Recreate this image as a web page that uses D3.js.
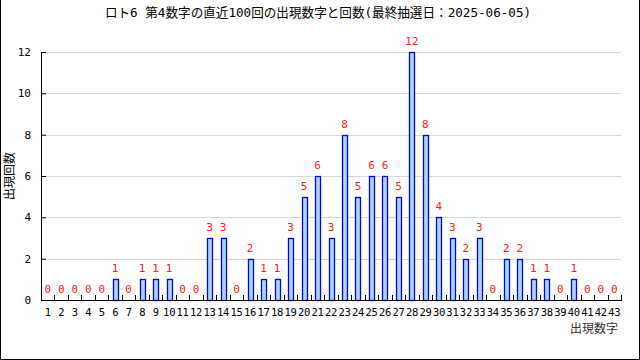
<!DOCTYPE html>
<html>
<head>
<meta charset="utf-8">
<script src="https://cdn.jsdelivr.net/npm/d3@7"></script>
<style>
  body { margin: 0; background: #fff; }
  svg { display: block; }
</style>
</head>
<body>
<div id="chart"></div>
<script>
// Data
const numbers = d3.range(1, 44);
const counts = [0, 0, 0, 0, 0, 1, 0, 1, 1, 1, 0, 0, 3, 3, 0, 2, 1, 1, 3, 5,
                6, 3, 8, 5, 6, 6, 5, 12, 8, 4, 3, 2, 3, 0, 2, 2, 1, 1, 0, 1,
                0, 0, 0];
const yTicks = [0, 2, 4, 6, 8, 10, 12];
const titleText = "ロト6 第4数字の直近100回の出現数字と回数(最終抽選日：2025-06-05)";

const data = numbers.map((n, i) => ({ num: n, count: counts[i] }));

const svgWidth = 640;
const svgHeight = 360;
const margin = { top: 52, right: 19, bottom: 60, left: 41 };
const width = svgWidth - margin.left - margin.right;
const height = svgHeight - margin.top - margin.bottom;

const monoFont = "'DejaVu Sans Mono', 'Noto Sans CJK JP', monospace";
const cjkFont = "'Noto Sans CJK JP', 'DejaVu Sans', sans-serif";

const svg = d3.select("#chart")
  .append("svg")
  .attr("width", svgWidth)
  .attr("height", svgHeight);

// outer frame (left, right, bottom)
svg.append("path")
  .attr("d", `M0.5,0 V${svgHeight - 0.5} H${svgWidth - 0.5} V0`)
  .attr("fill", "none")
  .attr("stroke", "#000");

// title
svg.append("text")
  .attr("x", 318)
  .attr("y", 17)
  .attr("text-anchor", "middle")
  .attr("font-family", monoFont)
  .attr("font-size", 12.6)
  .text(titleText);

const g = svg.append("g")
  .attr("transform", `translate(${margin.left}, ${margin.top})`);

const x = d3.scaleBand().domain(numbers).range([0, width]);
const y = d3.scaleLinear().domain([0, 12]).range([height, 0]);

// gridlines
g.append("g")
  .selectAll("line")
  .data(yTicks.filter(d => d > 0))
  .join("line")
  .attr("x1", 0)
  .attr("x2", width)
  .attr("y1", d => Math.round(y(d)) + 0.5)
  .attr("y2", d => Math.round(y(d)) + 0.5)
  .attr("stroke", "#d9d9d9");

// bars
const barW = 5;
g.append("g")
  .selectAll("rect")
  .data(data.filter(d => d.count > 0))
  .join("rect")
  .attr("x", d => Math.round(x(d.num) + x.bandwidth() / 2 - barW / 2) + 0.5)
  .attr("y", d => Math.round(y(d.count)) + 0.5)
  .attr("width", barW)
  .attr("height", d => Math.round(height) - Math.round(y(d.count)))
  .attr("fill", "#add8e6")
  .attr("stroke", "#0000ff")
  .attr("stroke-width", 1.3);

// value labels
g.append("g")
  .selectAll("text")
  .data(data)
  .join("text")
  .attr("x", d => x(d.num) + x.bandwidth() / 2)
  .attr("y", d => y(d.count) - 7)
  .attr("text-anchor", "middle")
  .attr("font-family", monoFont)
  .attr("font-size", 11)
  .attr("fill", "#ff2020")
  .text(d => d.count);

// y axis
const yAxis = d3.axisLeft(y).tickValues(yTicks).tickSizeInner(-5).tickSizeOuter(0).tickPadding(10);
g.append("g")
  .call(yAxis)
  .call(s => s.selectAll("text").attr("font-family", monoFont).attr("font-size", 11).attr("fill", "#000"));

// x axis with ticks at band boundaries
g.append("line")
  .attr("x1", 0).attr("x2", width + 1)
  .attr("y1", height + 0.5).attr("y2", height + 0.5)
  .attr("stroke", "#000");

g.append("g")
  .selectAll("line")
  .data(numbers)
  .join("line")
  .attr("x1", d => Math.round(x(d) + x.bandwidth()) + 0.5)
  .attr("x2", d => Math.round(x(d) + x.bandwidth()) + 0.5)
  .attr("y1", height)
  .attr("y2", height - 5)
  .attr("stroke", "#000");

g.append("g")
  .selectAll("text")
  .data(numbers)
  .join("text")
  .attr("x", d => x(d) + x.bandwidth() / 2)
  .attr("y", height + 16)
  .attr("text-anchor", "middle")
  .attr("font-family", monoFont)
  .attr("font-size", 10.5)
  .attr("letter-spacing", -0.3)
  .text(d => d);

// axis titles
svg.append("text")
  .attr("x", 618)
  .attr("y", 333)
  .attr("text-anchor", "end")
  .attr("font-family", cjkFont)
  .attr("font-size", 12)
  .attr("fill", "#333")
  .text("出現数字");

svg.append("text")
  .attr("transform", "translate(14, 176) rotate(-90)")
  .attr("text-anchor", "middle")
  .attr("font-family", cjkFont)
  .attr("font-size", 12)
  .text("出現回数");
</script>
</body>
</html>
